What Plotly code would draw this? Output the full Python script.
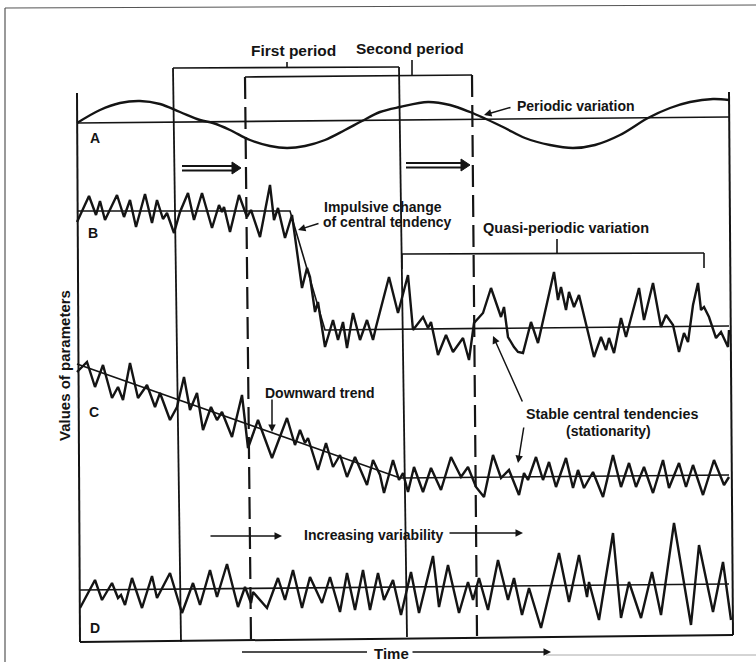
import plotly.graph_objects as go

W, H = 756, 662

# ---------------- data (time units across the plot box, values per panel) ----------------
a_time = [0, 23, 43, 63, 83, 103, 123, 136, 153, 173, 193, 210, 228, 248, 268, 285, 303, 323,
          351, 373, 393, 409, 428, 448, 473, 496, 518, 543, 571, 593, 613, 636, 652]
a_value = [-2, 11, 18, 20, 17, 9, 1, -2, -9, -19, -25, -27, -25, -19, -9, 0, 9, 14,
           19, 16, 9, 2, -7, -17, -24, -27, -24, -14, 3, 13, 19, 22, 21]
a_mean_time = [0, 652]
a_mean_value = [-2, 4]

b_time = [0, 12, 19, 23, 28, 40, 47, 53, 59, 68, 75, 80, 86, 90, 97, 103, 111, 117, 125, 135,
          142, 145, 147, 153, 162, 170, 174, 183, 193, 197, 201, 208, 215, 225, 230, 233, 238,
          241, 248, 256, 261, 266, 270, 276, 283, 290, 296, 299, 312, 321, 331, 336, 346, 351,
          354, 361, 369, 376, 386, 392, 397, 406, 414, 424, 427, 431, 437, 441, 446, 454, 461,
          477, 481, 484, 489, 492, 497, 502, 517, 524, 529, 532, 537, 544, 549, 562, 567, 576,
          584, 589, 596, 602, 607, 611, 616, 621, 624, 627, 632, 639, 644, 651, 652]
b_value = [-10, 16, -3, 11, -8, 17, -5, 12, -15, 18, -11, 12, -7, -1, -21, 0, 19, -8, 19, -16,
           7, 0, 5, -20, 17, -5, 2, -25, 27, -8, 4, -26, -3, -76, -56, -65, -100,
           -90, -135, -108, -128, -110, -136, -101, -128, -108, -128, -115, -65, -101, -63, -118, -105, -116,
           -110, -143, -123, -140, -126, -148, -111, -101, -76, -105, -95, -125, -135, -140, -141, -110, -131,
           -60, -88, -75, -98, -80, -95, -83, -145, -125, -138, -126, -141, -106, -125, -76, -108, -71,
           -115, -103, -113, -140, -121, -130, -93, -71, -98, -95, -105, -126, -120, -135, -118]
b_mean_time = [0, 213, 248, 652]
b_mean_value = [1, 1, -118, -114]

c_time = [0, 10, 18, 26, 35, 41, 46, 53, 61, 70, 78, 83, 93, 100, 107, 113, 120, 126, 134, 140,
          145, 155, 165, 171, 181, 195, 210, 218, 223, 228, 231, 241, 249, 256, 263, 270, 278,
          290, 296, 303, 307, 316, 322, 326, 331, 337, 346, 354, 364, 374, 384, 391, 399, 407,
          416, 424, 432, 442, 447, 451, 459, 466, 472, 479, 489, 496, 501, 507, 516, 526, 536,
          544, 552, 559, 567, 576, 586, 592, 602, 609, 616, 626, 637, 647, 652]
c_value = [104, 114, 89, 111, 78, 89, 76, 113, 78, 91, 69, 83, 56, 69, 99, 66, 83, 46, 69, 56,
           64, 39, 81, 28, 56, 18, 58, 31, 46, 33, 38, 6, 33, 9, 21, -1, 19,
           -9, 16, 1, -17, 16, -4, 3, -16, 9, -16, 8, -14, 19, -1, 9, -11, -21,
           21, -2, 6, -19, 3, -4, 19, -4, 14, -11, 18, -12, 6, -12, 4, -21, 21,
           -11, 13, -11, 9, -17, 16, -12, 13, -11, 11, -19, 16, -9, -1]
c_trend_time = [0, 323, 652]
c_trend_value = [112, -2, 1]

d_time = [3, 18, 25, 35, 41, 44, 48, 55, 65, 75, 80, 93, 105, 116, 123, 133, 140, 150, 161, 168,
          174, 176, 190, 201, 208, 216, 225, 233, 245, 253, 263, 270, 278, 286, 293, 301, 307,
          316, 324, 334, 342, 356, 362, 371, 382, 391, 396, 402, 411, 421, 431, 437, 445, 452,
          464, 482, 492, 502, 510, 512, 522, 536, 544, 552, 564, 575, 584, 597, 614, 622, 636,
          646, 654]
d_value = [-20, 8, -12, 5, -10, -7, -17, 10, -20, 12, -10, 15, -25, 5, -17, 18, -9, 24, -19, 1,
           -15, -4, -20, 10, -12, 18, -20, 11, -15, 11, -24, 15, -22, 18, -22, 15, -12,
           8, -27, 16, -25, 32, -19, 23, -25, 6, -12, 10, -22, 28, -12, 10, -27, 0,
           -40, 35, -14, 33, -9, 6, -32, 55, -30, 6, -30, 16, -27, 65, -37, 43, -24,
           26, -32]
d_mean_time = [3, 652]
d_mean_value = [-2, 4]

INK = "#141414"
FONT = "Liberation Sans"

fig = go.Figure()


def series(t, v, axis, width, shape="linear"):
    fig.add_trace(go.Scatter(x=t, y=v, yaxis=axis, mode="lines",
                             line=dict(color=INK, width=width, shape=shape),
                             hoverinfo="skip", showlegend=False))


series(a_mean_time, a_mean_value, "y", 1.6)
series(a_time, a_value, "y", 2.4, "spline")
series(b_mean_time, b_mean_value, "y2", 1.6)
series(b_time, b_value, "y2", 2.4)
series(c_trend_time, c_trend_value, "y3", 1.6)
series(c_time, c_value, "y3", 2.4)
series(d_mean_time, d_mean_value, "y4", 1.6)
series(d_time, d_value, "y4", 2.4)


# ---------------- layout helpers (pixel -> paper) ----------------
def X(px):
    return px / W


def Y(py):
    return 1 - py / H


shapes = []


def seg(x0, y0, x1, y1, width=1.8, dash=None, color=INK):
    ln = dict(color=color, width=width)
    if dash:
        ln["dash"] = dash
    shapes.append(dict(type="line", xref="paper", yref="paper",
                       x0=X(x0), y0=Y(y0), x1=X(x1), y1=Y(y1), line=ln))


def tri(p):
    path = "M " + " L ".join(f"{X(a)},{Y(b)}" for a, b in p) + " Z"
    shapes.append(dict(type="path", xref="paper", yref="paper", path=path,
                       fillcolor=INK, line=dict(color=INK, width=1)))


# outer frame
seg(5, 8, 5, 662, width=1.2, color="#555")
seg(5, 8, 756, 5, width=1.2, color="#555")
seg(546, 655, 756, 655, width=1, color="#aaa")
# plot box
seg(77, 93, 80, 642, width=2)
seg(729, 92, 733, 635, width=2)
seg(80, 642, 733, 635, width=2)
# period boundaries
seg(173, 68, 181, 642, width=1.8)
seg(399, 67, 407, 637, width=1.8)
seg(245, 77, 251, 642, width=2.2, dash="22px,8px")
seg(472, 75, 477, 636, width=2.2, dash="22px,8px")
# brackets
seg(173, 68, 399, 67, width=1.6)
seg(287, 68, 287, 62, width=1.6)
seg(245, 77, 472, 75, width=1.6)
seg(412, 75, 412, 60, width=1.6)
seg(402, 254, 704, 253, width=1.6)
seg(402, 254, 402, 269, width=1.6)
seg(704, 253, 704, 268, width=1.6)
seg(557, 254, 557, 239, width=1.6)
# double (hollow) arrows
seg(182, 166, 233, 166, width=1.8)
seg(182, 170.5, 233, 170.5, width=1.8)
tri([(232, 162), (241, 168), (232, 174)])
seg(406, 163, 462, 163, width=1.8)
seg(406, 167.5, 462, 167.5, width=1.8)
tri([(461, 159), (470, 165), (461, 171)])
# time line
seg(242, 652, 367, 652, width=1.6)

annotations = []


def text(s, x, y, anchor="left", size=14, angle=0):
    annotations.append(dict(text=f"<b>{s}</b>", xref="paper", yref="paper",
                            x=X(x), y=Y(y), xanchor=anchor, yanchor="middle",
                            showarrow=False, textangle=angle,
                            font=dict(family=FONT, size=size, color=INK)))


def arrow(hx, hy, tx, ty, width=1.5, size=1.0):
    annotations.append(dict(text="", xref="paper", yref="paper", x=X(hx), y=Y(hy),
                            ax=tx - hx, ay=ty - hy, axref="pixel", ayref="pixel",
                            showarrow=True, arrowhead=2, arrowsize=size,
                            arrowwidth=width, arrowcolor=INK))


text("First period", 293, 50, "center", size=15.5)
text("Second period", 410, 48, "center", size=15.5)
text("Periodic variation", 515, 106)
text("A", 95, 138, "center")
text("B", 93, 233, "center")
text("C", 94, 412, "center")
text("D", 95, 628, "center")
text("Impulsive change", 322, 207)
text("of central tendency", 321, 222)
text("Quasi-periodic variation", 481, 228, size=14.5)
text("Values of parameters", 65, 366, "center", size=15, angle=-90)
text("Downward trend", 263, 393)
text("Stable central tendencies", 524, 414, size=14.3)
text("(stationarity)", 608, 431, "center")
text("Increasing variability", 302, 535)
text("Time", 372, 653, size=15)

arrow(484, 115, 512, 107)
arrow(298, 230, 320, 223)
arrow(272, 432, 272, 398)
arrow(493, 336, 523, 403)
arrow(518, 463, 524, 426)
arrow(282, 536, 209, 536)
arrow(523, 533, 448, 533)
arrow(551, 652, 411, 652)

axis_off = dict(visible=False, showgrid=False, zeroline=False, fixedrange=True)
bases = {"yaxis": 121, "yaxis2": 212, "yaxis3": 476, "yaxis4": 588}
x0_px = 77

layout = dict(width=W, height=H, autosize=False,
              margin=dict(l=0, r=0, t=0, b=0),
              paper_bgcolor="white", plot_bgcolor="white",
              xaxis=dict(range=[-x0_px, W - x0_px], domain=[0, 1], **axis_off),
              shapes=shapes, annotations=annotations, showlegend=False)
for name, base in bases.items():
    cfg = dict(range=[base - H, base], domain=[0, 1], anchor="x", **axis_off)
    if name != "yaxis":
        cfg["overlaying"] = "y"
    layout[name] = cfg

fig.update_layout(**layout)
fig.write_html("out.html", config={"displayModeBar": False},
               post_script="document.body.style.margin='0';document.body.style.overflow='hidden';")
